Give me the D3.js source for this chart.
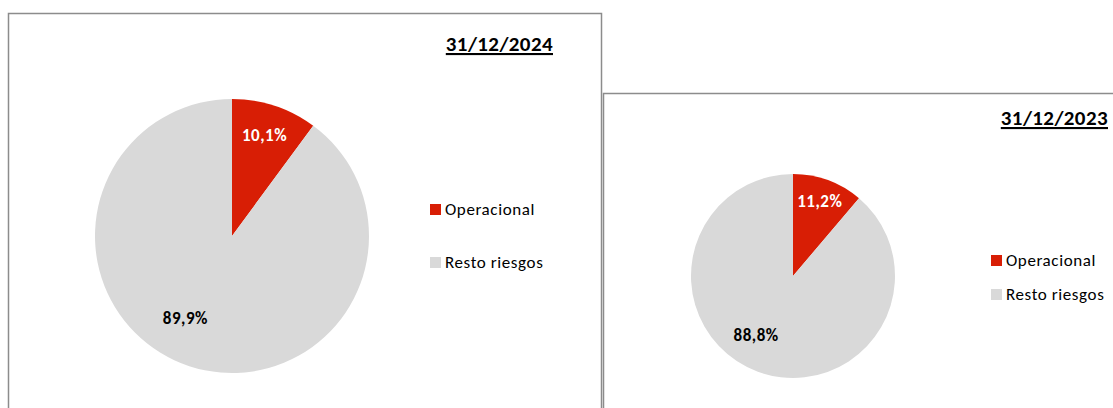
<!DOCTYPE html>
<html>
<head>
<meta charset="utf-8">
<script src="https://cdn.jsdelivr.net/npm/d3@7"></script>
<style>
  html, body { margin: 0; padding: 0; background: #fff; }
  svg { display: block; font-family: Carlito, Lato, "Liberation Sans", sans-serif; }
</style>
</head>
<body>
<div id="chart"></div>
<script>
// Deux camemberts : part du risque opérationnel, 2024 vs 2023
const categories = ["Operacional", "Resto riesgos"]
const colors = ["#d81e05", "#d9d9d9"]
const labelColors = ["#ffffff", "#000000"]

const dates = ["31/12/2024", "31/12/2023"]
const values2024 = [10.1, 89.9]
const values2023 = [11.2, 88.8]

const W = 1113, H = 408

const svg = d3.select("#chart").append("svg")
  .attr("width", W).attr("height", H)

const fmt = (v) => d3.format(".1f")(v).replace(".", ",") + "%"

// Un panneau par date
const panels = [
  { date: dates[0], values: values2024, box: [8, 13, 601, 420],
    cx: 232, cy: 236, r: 137, titleX: 553, titleY: 51,
    legX: 430, legY: [210, 263] },
  { date: dates[1], values: values2023, box: [603, 93, 1130, 420],
    cx: 793, cy: 276, r: 102, titleX: 1108, titleY: 125,
    legX: 991, legY: [261, 295] },
]

// placement des étiquettes façon Excel (rayon relatif, décalage angulaire)
const labelRadius = [0.76, 0.7]
const labelShift = [0, 0.19]

const pie = d3.pie().sort(null).value((d) => d)

panels.forEach((p) => {
  const g = svg.append("g")

  // cadre
  g.append("rect")
    .attr("x", p.box[0] + 0.5).attr("y", p.box[1] + 0.5)
    .attr("width", p.box[2] - p.box[0]).attr("height", p.box[3] - p.box[1])
    .attr("fill", "#fff").attr("stroke", "#8c8c8c").attr("stroke-width", 1.5)

  // titre souligné
  g.append("text")
    .attr("x", p.titleX).attr("y", p.titleY)
    .attr("text-anchor", "end")
    .attr("font-size", 21).attr("font-weight", 700)
    .attr("letter-spacing", 0.4)
    .attr("text-decoration", "underline")
    .attr("fill", "#000")
    .text(p.date)

  const arcs = pie(p.values)
  const arc = d3.arc().innerRadius(0).outerRadius(p.r)

  const pg = g.append("g").attr("transform", `translate(${p.cx},${p.cy})`)
  pg.selectAll("path")
    .data(arcs)
    .join("path")
    .attr("d", arc)
    .attr("fill", (_, i) => colors[i])

  pg.selectAll("text")
    .data(arcs)
    .join("text")
    .attr("transform", (d, i) => {
      const a = (d.startAngle + d.endAngle) / 2 + labelShift[i]
      const rr = p.r * labelRadius[i]
      return `translate(${Math.sin(a) * rr},${-Math.cos(a) * rr})`
    })
    .attr("text-anchor", "middle")
    .attr("dominant-baseline", "middle")
    .attr("font-size", 17).attr("font-weight", 700)
    .attr("letter-spacing", 0.5)
    .attr("fill", (_, i) => labelColors[i])
    .text((d) => fmt(d.data))

  // légende
  categories.forEach((c, i) => {
    g.append("rect")
      .attr("x", p.legX).attr("y", p.legY[i] - 6)
      .attr("width", 11).attr("height", 11)
      .attr("fill", colors[i])
    g.append("text")
      .attr("x", p.legX + 15).attr("y", p.legY[i] + 1)
      .attr("dominant-baseline", "middle")
      .attr("font-size", 17)
      .attr("letter-spacing", 0.6)
      .attr("fill", "#000")
      .text(c)
  })
})
</script>
</body>
</html>
